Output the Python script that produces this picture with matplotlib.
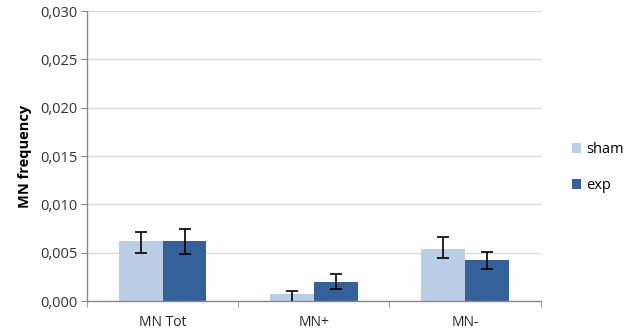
import matplotlib
matplotlib.use("Agg")
import matplotlib.pyplot as plt
import numpy as np
from matplotlib.ticker import FuncFormatter

categories = ["MN Tot", "MN+", "MN-"]
series_names = ["sham", "exp"]
sham_values = [0.0062, 0.0007, 0.0054]
exp_values = [0.0062, 0.0020, 0.0042]
sham_err_low = [0.0012, 0.0009, 0.0009]
sham_err_high = [0.0009, 0.0003, 0.0012]
exp_err_low = [0.0013, 0.0008, 0.0009]
exp_err_high = [0.0013, 0.0008, 0.0009]
yticks = [0.000, 0.005, 0.010, 0.015, 0.020, 0.025, 0.030]

plt.rcParams['font.family'] = ['Open Sans', 'DejaVu Sans']

fig = plt.figure(figsize=(6.28, 3.34), dpi=100)
ax = fig.add_axes([0.1385, 0.0988, 0.7225, 0.8682])

x = np.arange(len(categories))
w = 0.29
c_sham = "#B9CDE5"
c_exp = "#34619A"
ax.bar(x - w/2, sham_values, w, color=c_sham, label=series_names[0], zorder=2)
ax.bar(x + w/2, exp_values, w, color=c_exp, label=series_names[1], zorder=2)
ax.errorbar(x - w/2, sham_values, yerr=[sham_err_low, sham_err_high], fmt='none',
            ecolor='black', elinewidth=1.2, capsize=4, capthick=1.2, zorder=3)
ax.errorbar(x + w/2, exp_values, yerr=[exp_err_low, exp_err_high], fmt='none',
            ecolor='black', elinewidth=1.2, capsize=4, capthick=1.2, zorder=3)

ax.set_xlim(-0.5, len(categories) - 0.5)
ax.set_ylim(0, 0.030)
ax.set_yticks(yticks)
ax.yaxis.set_major_formatter(FuncFormatter(lambda v, p: f"{v:.3f}".replace('.', ',')))
ax.set_xticks(x)
ax.set_xticklabels(categories)
ax.set_xticks(np.arange(len(categories) + 1) - 0.5, minor=True)
ax.tick_params(axis='x', which='major', length=0, pad=10, labelsize=10, colors='#222222')
ax.tick_params(axis='x', which='minor', length=4, color='#888888', direction='out')
ax.tick_params(axis='y', length=4, color='#888888', labelsize=10.5, labelcolor='#333333', pad=3)

ax.grid(axis='y', color='#D9D9D9', linewidth=1, zorder=0)
ax.set_axisbelow(True)
for s in ['top', 'right']:
    ax.spines[s].set_visible(False)
for s in ['left', 'bottom']:
    ax.spines[s].set_color('#888888')
    ax.spines[s].set_linewidth(1)

ax.set_ylabel("MN frequency", fontsize=10.5, fontweight='bold', labelpad=6)

leg = ax.legend(loc='center left', bbox_to_anchor=(1.07, 0.46), frameon=False,
                borderaxespad=0, borderpad=0,
                fontsize=10.5, handlelength=0.6, handleheight=0.6, handletextpad=0.35,
                labelspacing=1.45)

fig.savefig("out.png", dpi=100)
